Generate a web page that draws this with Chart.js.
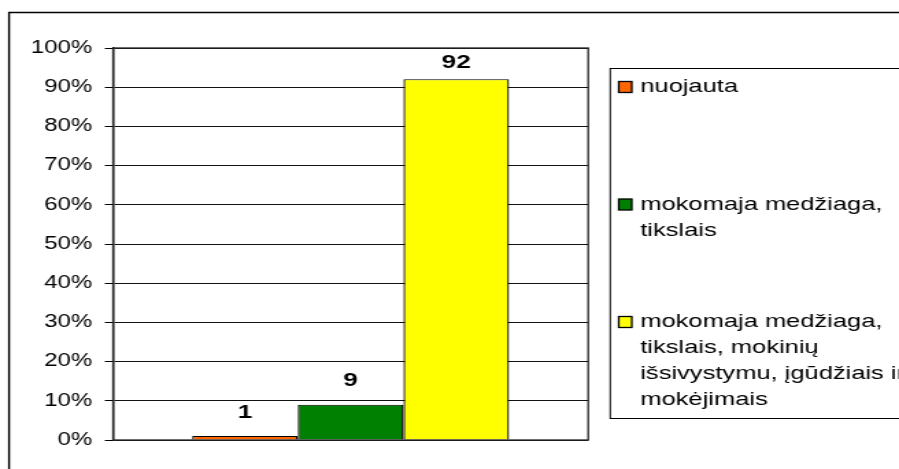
<!DOCTYPE html>
<html lang="lt">
<head>
<meta charset="utf-8">
<title>Atsakymai</title>
<script src="https://cdn.jsdelivr.net/npm/chart.js@4.4.1/dist/chart.umd.min.js"></script>
<style>
    html, body { margin: 0; padding: 0; background: #fff; }
    canvas { display: block; }
</style>
</head>
<body>
<!-- drobė piešiama siauresnė ir ištempiama per plotį -->
<canvas id="grafikas" width="656" height="469" style="width:899px;height:469px"></canvas>
<script>
// Duomenys
const kategorijos = [''];
const serijos = [
    'nuojauta',
    'mokomaja medžiaga, tikslais',
    'mokomaja medžiaga, tikslais, mokinių išsivystymu, įgūdžiais ir mokėjimais'
];
const legendosEilutes = [
    ['nuojauta'],
    ['mokomaja medžiaga,', 'tikslais'],
    ['mokomaja medžiaga,', 'tikslais, mokinių', 'išsivystymu, įgūdžiais ir', 'mokėjimais']
];
const procentai = [1, 9, 92];
const spalvos = ['#FF6600', '#008000', '#FFFF00'];
const yZymes = [0, 10, 20, 30, 40, 50, 60, 70, 80, 90, 100];

const SRIFTAS = '"Liberation Sans", Arial, Helvetica, sans-serif';

// Fonas, rėmeliai, reikšmės virš stulpelių ir legenda
const piesimas = {
    id: 'piesimas',
    beforeDraw(chart) {
        const ctx = chart.ctx;
        ctx.save();
        ctx.fillStyle = '#fff';
        ctx.fillRect(0, 0, chart.width, chart.height);
        // išorinis rėmelis
        ctx.strokeStyle = '#000';
        ctx.lineWidth = 1.4;
        ctx.beginPath();
        ctx.moveTo(6.6, chart.height + 2);
        ctx.lineTo(6.6, 12.5);
        ctx.lineTo(chart.width + 2, 12.5);
        ctx.stroke();
        ctx.restore();
    },
    afterDraw(chart) {
        const ctx = chart.ctx;
        const a = chart.chartArea;
        ctx.save();

        // grafiko ploto rėmelis
        ctx.strokeStyle = '#222';
        ctx.lineWidth = 1.3;
        ctx.strokeRect(a.left, a.top, a.right - a.left, a.bottom - a.top);

        // reikšmės virš stulpelių
        ctx.fillStyle = '#000';
        ctx.font = 'bold 19px ' + SRIFTAS;
        ctx.textAlign = 'center';
        ctx.textBaseline = 'bottom';
        chart.data.datasets.forEach((ds, i) => {
            chart.getDatasetMeta(i).data.forEach((bar, j) => {
                const y = Math.max(bar.y - 14, a.top + 24);
                ctx.fillText(String(ds.data[j]), bar.x, y);
            });
        });

        // legenda
        const lx = 445.3, ly = 68.5;
        ctx.strokeStyle = '#000';
        ctx.lineWidth = 1;
        ctx.strokeRect(lx, ly, 300, 350);
        ctx.font = '18.6px ' + SRIFTAS;
        ctx.textAlign = 'left';
        ctx.textBaseline = 'middle';
        legendosEilutes.forEach((eilutes, i) => {
            const y0 = ly + 18.5 + i * 117.5;
            ctx.fillStyle = spalvos[i];
            ctx.fillRect(451.5, y0 - 5.5, 9.5, 11);
            ctx.strokeStyle = '#000';
            ctx.lineWidth = 1.3;
            ctx.strokeRect(451.5, y0 - 5.5, 9.5, 11);
            ctx.fillStyle = '#000';
            eilutes.forEach((t, k) => {
                ctx.fillText(t, 467.2, y0 + k * 26);
            });
        });
        ctx.restore();
    }
};

const ctx = document.getElementById('grafikas').getContext('2d');
const grafikas = new Chart(ctx, {
    type: 'bar',
    data: {
        labels: kategorijos,
        datasets: serijos.map((pav, i) => ({
            label: pav,
            data: [procentai[i]],
            backgroundColor: spalvos[i],
            borderColor: '#000',
            borderWidth: { top: 1, bottom: 0, left: 1.3, right: 1.3 },
            borderSkipped: false
        }))
    },
    options: {
        responsive: false,
        animation: false,
        events: [],
        layout: {
            padding: { left: 0, top: 48, right: 226.8, bottom: 29 }
        },
        datasets: {
            bar: {
                categoryPercentage: 0.667,
                barPercentage: 1
            }
        },
        scales: {
            x: {
                display: false
            },
            y: {
                min: 0,
                max: 100,
                afterFit: s => { s.width = 82.5; },
                afterBuildTicks: s => { s.ticks = yZymes.map(v => ({ value: v })); },
                ticks: {
                    padding: 9.3,
                    color: '#000',
                    font: { family: SRIFTAS, size: 17.5 },
                    callback: v => v + '%'
                },
                grid: {
                    color: '#111',
                    lineWidth: 1,
                    tickLength: 6,
                    tickColor: '#000'
                },
                border: {
                    display: true,
                    color: '#000',
                    width: 1.4
                }
            }
        },
        plugins: {
            legend: { display: false },
            tooltip: { enabled: false }
        }
    },
    plugins: [piesimas]
});
</script>
</body>
</html>
